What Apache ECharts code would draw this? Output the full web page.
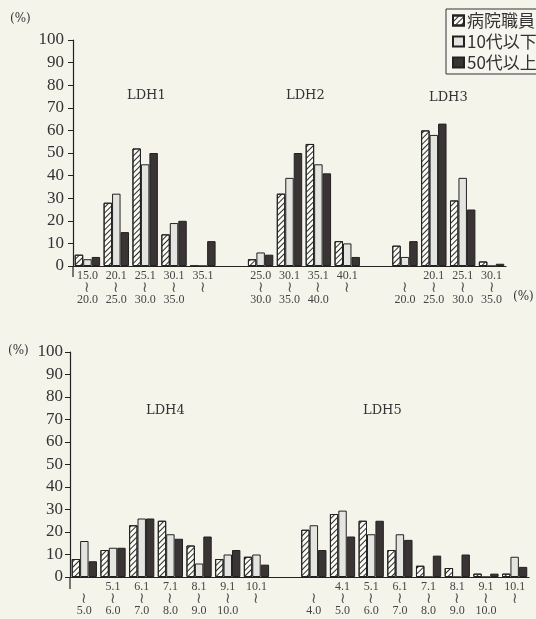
<!DOCTYPE html>
<html>
<head>
<meta charset="utf-8">
<script src="https://cdn.jsdelivr.net/npm/echarts@6/dist/echarts.min.js"></script>
<style>
  html, body { margin: 0; padding: 0; background: #f5f4eb; }
  #chart { width: 536px; height: 619px; }
</style>
</head>
<body>
<div id="chart"></div>
<script>
// Series names (legend)
const seriesNames = ['病院職員', '10代以下', '50代以上'];

// Range classes for each isoenzyme (lower〜upper, %)
const ldh1Ranges = ['15.0〜20.0', '20.1〜25.0', '25.1〜30.0', '30.1〜35.0', '35.1〜'];
const ldh2Ranges = ['25.0〜30.0', '30.1〜35.0', '35.1〜40.0', '40.1〜'];
const ldh3Ranges = ['〜20.0', '20.1〜25.0', '25.1〜30.0', '30.1〜35.0'];
const ldh4Ranges = ['〜5.0', '5.1〜6.0', '6.1〜7.0', '7.1〜8.0', '8.1〜9.0', '9.1〜10.0', '10.1〜'];
const ldh5Ranges = ['〜4.0', '4.1〜5.0', '5.1〜6.0', '6.1〜7.0', '7.1〜8.0', '8.1〜9.0', '9.1〜10.0', '10.1〜'];

// Percentage of subjects in each class
const ldh1Staff = [5, 28, 52, 14, 0];
const ldh1Young = [3, 32, 45, 19, 0];
const ldh1Old   = [4, 15, 50, 20, 11];

const ldh2Staff = [3, 32, 54, 11];
const ldh2Young = [6, 39, 45, 10];
const ldh2Old   = [5, 50, 41, 4];

const ldh3Staff = [9, 60, 29, 2];
const ldh3Young = [4, 58, 39, 0];
const ldh3Old   = [11, 63, 25, 1];

const ldh4Staff = [8, 12, 23, 25, 14, 8, 9];
const ldh4Young = [16, 13, 26, 19, 6, 10, 10];
const ldh4Old   = [7, 13, 26, 17, 18, 12, 5.5];

const ldh5Staff = [21, 28, 25, 12, 5, 4, 1.5, 1.5];
const ldh5Young = [23, 29.5, 19, 19, 0, 0, 0, 9];
const ldh5Old   = [12, 18, 25, 16.5, 9.5, 10, 1.5, 4.5];

// Y axis ticks
const yMin = 0, yMax = 100, yStep = 10;

// ---- layout ----
const TOP = { left: 73, top: 40, width: 433, height: 226 };
const BOT = { left: 70, top: 352, width: 459, height: 225 };

const SERIF = '"Liberation Serif", "DejaVu Serif", serif';
const JP = '"Noto Sans CJK JP", sans-serif';

// Build a category list with one empty slot between isoenzyme groups
function buildCategories(groups) {
  const out = [];
  groups.forEach(function (g, gi) {
    if (gi > 0) out.push('gap' + gi + '|');
    g.ranges.forEach(function (r) { out.push(g.name + '|' + r); });
  });
  return out;
}
function buildValues(lists) {
  const out = [];
  lists.forEach(function (l, li) {
    if (li > 0) out.push(null);
    l.forEach(function (v) { out.push(v); });
  });
  return out;
}

const topCats = buildCategories([
  { name: 'LDH1', ranges: ldh1Ranges },
  { name: 'LDH2', ranges: ldh2Ranges },
  { name: 'LDH3', ranges: ldh3Ranges }
]);
const botCats = buildCategories([
  { name: 'LDH4', ranges: ldh4Ranges },
  { name: 'LDH5', ranges: ldh5Ranges }
]);

// three-line class label: lower bound / wave / upper bound
function rangeLabel(value) {
  const range = value.split('|')[1];
  if (!range) return '';
  const parts = range.split('〜');
  return parts[0] + '\n{w|≀}\n' + (parts[1] || '');
}

const styles = [
  {
    color: '#fbfbf6',
    borderColor: '#222',
    borderWidth: 1,
    decal: {
      symbol: 'rect',
      symbolSize: 1,
      dashArrayX: [1, 0],
      dashArrayY: [0.8, 2.1],
      rotation: -Math.PI / 4,
      color: '#2a2a2a'
    }
  },
  { color: '#e4e4e0', borderColor: '#222', borderWidth: 1 },
  { color: '#3a3434', borderColor: '#222', borderWidth: 1 }
];

function xAxisFor(gridIndex, cats) {
  return {
    type: 'category',
    gridIndex: gridIndex,
    data: cats,
    axisLine: { lineStyle: { color: '#222', width: 1.2 } },
    axisTick: { show: false },
    axisLabel: {
      interval: 0,
      margin: 4,
      formatter: rangeLabel,
      fontFamily: SERIF,
      fontSize: 12,
      lineHeight: 12,
      color: '#444',
      rich: {
        w: { fontFamily: '"DejaVu Serif", serif', fontSize: 15, lineHeight: 12, color: '#555' }
      }
    }
  };
}
function yAxisFor(gridIndex, margin) {
  return {
    type: 'value',
    gridIndex: gridIndex,
    min: yMin, max: yMax, interval: yStep,
    axisLine: { show: true, lineStyle: { color: '#222', width: 1.2 } },
    axisTick: { show: true, length: 5, lineStyle: { color: '#222' } },
    splitLine: { show: false },
    axisLabel: { fontFamily: SERIF, fontSize: 17, color: '#333', margin: margin }
  };
}

function barSeries(idx, axisIndex, data) {
  return {
    type: 'bar',
    name: seriesNames[idx],
    xAxisIndex: axisIndex,
    yAxisIndex: axisIndex,
    data: data,
    barGap: '0%',
    barCategoryGap: '12%',
    itemStyle: styles[idx],
    emphasis: { disabled: true }
  };
}

function label(text, x, y, size, family) {
  return {
    type: 'text', left: x, top: y,
    style: { text: text, fill: '#333', font: (size || 13) + 'px ' + (family || '"DejaVu Serif", serif') }
  };
}

const chart = echarts.init(document.getElementById('chart'), null, { renderer: 'canvas' });

chart.setOption({
  backgroundColor: '#f5f4eb',
  animation: false,
  grid: [
    { left: TOP.left, top: TOP.top, width: TOP.width, height: TOP.height },
    { left: BOT.left, top: BOT.top, width: BOT.width, height: BOT.height }
  ],
  xAxis: [xAxisFor(0, topCats), xAxisFor(1, botCats)],
  yAxis: [yAxisFor(0, 9), yAxisFor(1, 7)],
  legend: {
    data: seriesNames,
    orient: 'vertical',
    left: 446, top: 9,
    icon: 'rect',
    itemWidth: 11, itemHeight: 10,
    itemGap: 4,
    padding: [3, 8, 3, 6],
    borderColor: '#333', borderWidth: 1,
    backgroundColor: '#f7f6ee',
    selectedMode: false,
    textStyle: { fontFamily: JP, fontSize: 17, color: '#333', padding: [0, 0, 0, -2] }
  },
  series: [
    barSeries(0, 0, buildValues([ldh1Staff, ldh2Staff, ldh3Staff])),
    barSeries(1, 0, buildValues([ldh1Young, ldh2Young, ldh3Young])),
    barSeries(2, 0, buildValues([ldh1Old, ldh2Old, ldh3Old])),
    barSeries(0, 1, buildValues([ldh4Staff, ldh5Staff])),
    barSeries(1, 1, buildValues([ldh4Young, ldh5Young])),
    barSeries(2, 1, buildValues([ldh4Old, ldh5Old]))
  ],
  graphic: [
    label('LDH1', 127, 89),
    label('LDH2', 286, 89),
    label('LDH3', 429, 91),
    label('LDH4', 146, 404),
    label('LDH5', 363, 404),
    label('(%)', 10, 13, 12),
    label('(%)', 8, 345, 12),
    label('(%)', 513, 291, 12),
    // y axes continue a little below the zero line
    { type: 'line', shape: { x1: TOP.left, y1: TOP.top + TOP.height, x2: TOP.left, y2: TOP.top + TOP.height + 11 },
      style: { stroke: '#222', lineWidth: 1.2 } },
    { type: 'line', shape: { x1: BOT.left, y1: BOT.top + BOT.height, x2: BOT.left, y2: BOT.top + BOT.height + 12 },
      style: { stroke: '#222', lineWidth: 1.2 } }
  ]
});
</script>
</body>
</html>
